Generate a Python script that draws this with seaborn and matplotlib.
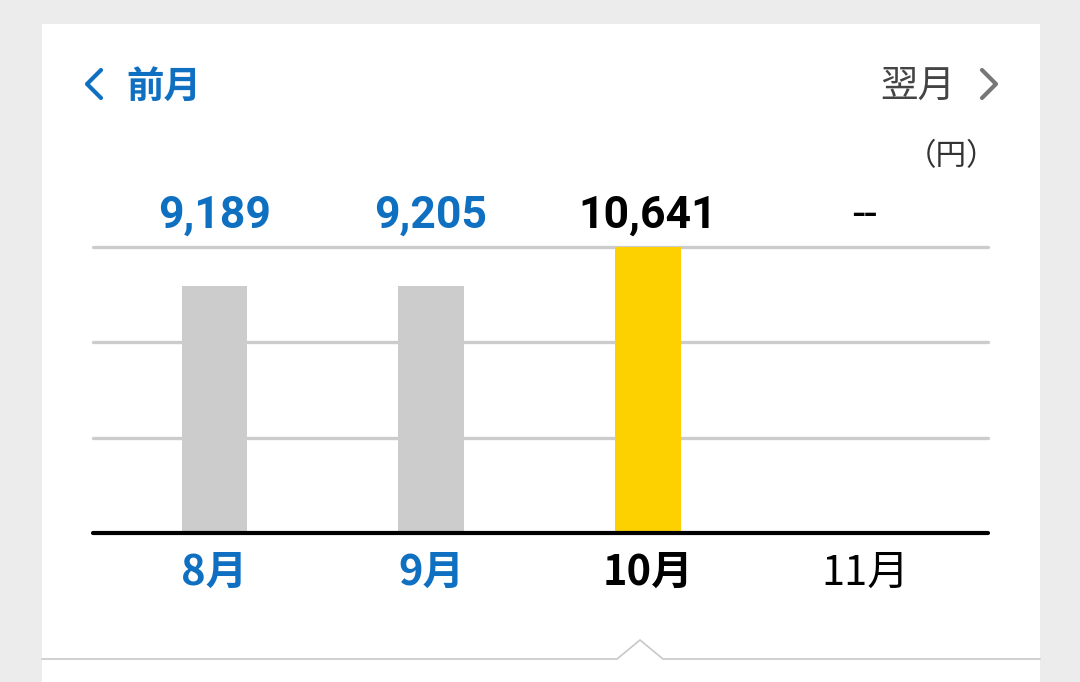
import matplotlib
matplotlib.use("Agg")
import matplotlib.pyplot as plt
import numpy as np
import pandas as pd
import seaborn as sns
from matplotlib.lines import Line2D
from matplotlib.patches import Rectangle

# data
months = ["8月", "9月", "10月", "11月"]
values = [9189, 9205, 10641, np.nan]
bar_colors = ["#cccccc", "#cccccc", "#fdd100", "#cccccc"]
label_colors = ["#0f6fc0", "#0f6fc0", "#000000", "#000000"]
label_weights = ["bold", "bold", "bold", "normal"]

BLUE = "#0f6fc0"

sns.set_style("white")
plt.rcParams['font.family'] = ['Noto Sans CJK JP', 'DejaVu Sans']

W, H = 1080, 682
fig = plt.figure(figsize=(W / 100, H / 100), dpi=100)
fig.patch.set_facecolor("#ececec")


def px(x, y):
    # image pixel -> figure fraction
    return x / W, 1 - y / H


# white card
fig.add_artist(Rectangle((42 / W, 0), (1040 - 42) / W, (H - 24) / H,
                         transform=fig.transFigure, facecolor="white",
                         edgecolor="none", zorder=0))

# divider with the little notch under the current month
notch = [(42, 659), (617, 659), (640, 640), (663, 659), (1040, 659)]
fig.add_artist(Line2D([px(*p)[0] for p in notch], [px(*p)[1] for p in notch],
                      transform=fig.transFigure, color="#c8c8c8", lw=1.2))

# chevrons
lt = [(101, 70), (87, 84), (101, 98)]
fig.add_artist(Line2D([px(*p)[0] for p in lt], [px(*p)[1] for p in lt],
                      transform=fig.transFigure, color=BLUE, lw=3,
                      solid_capstyle="round", solid_joinstyle="round"))
gt = [(982, 70), (996, 84), (982, 98)]
fig.add_artist(Line2D([px(*p)[0] for p in gt], [px(*p)[1] for p in gt],
                      transform=fig.transFigure, color="#777777", lw=3,
                      solid_capstyle="round", solid_joinstyle="round"))

fig.text(*px(126, 86), "前月", color=BLUE, fontsize=27, fontweight="bold",
         ha="left", va="center")
fig.text(*px(955, 86), "翌月", color="#444444", fontsize=27,
         ha="right", va="center")
fig.text(*px(997, 157), "（円）", color="#333333", fontsize=22,
         ha="right", va="center")

# chart
top = max(v for v in values if not np.isnan(v))
ax = fig.add_axes([93 / W, (H - 533) / H, (988 - 93) / W, 286 / H])
ax.set_facecolor("none")

df = pd.DataFrame({"month": months[:3], "value": values[:3]})
sns.barplot(data=df, x="month", y="value", hue="month", order=months,
            palette=dict(zip(months, bar_colors)), width=0.3, saturation=1,
            linewidth=0, legend=False, ax=ax, zorder=2)

ax.set_xlim(-0.558, 3.567)
ax.set_ylim(0, top)
for g in [top / 3, 2 * top / 3, top]:
    ax.axhline(g, color="#cccccc", lw=2.4, zorder=1, clip_on=False)
ax.axhline(0, color="#000000", lw=3, zorder=3, clip_on=False)

for s in ax.spines.values():
    s.set_visible(False)
ax.set_xticks([])
ax.set_yticks([])
ax.set_xlabel("")
ax.set_ylabel("")

tr = ax.get_xaxis_transform()
for i, (m, v) in enumerate(zip(months, values)):
    missing = np.isnan(v)
    txt = "--" if missing else f"{int(v):,}"
    ax.text(i, 1.108, txt, transform=tr, ha="center", va="center",
            fontsize=32, fontweight="normal" if missing else "bold",
            color=label_colors[i], family=["Roboto", "Noto Sans CJK JP"])
    ax.text(i, -0.14, m, transform=tr, ha="center", va="center",
            fontsize=30, fontweight=label_weights[i], color=label_colors[i])

fig.savefig("out.png", dpi=100, facecolor=fig.get_facecolor())
